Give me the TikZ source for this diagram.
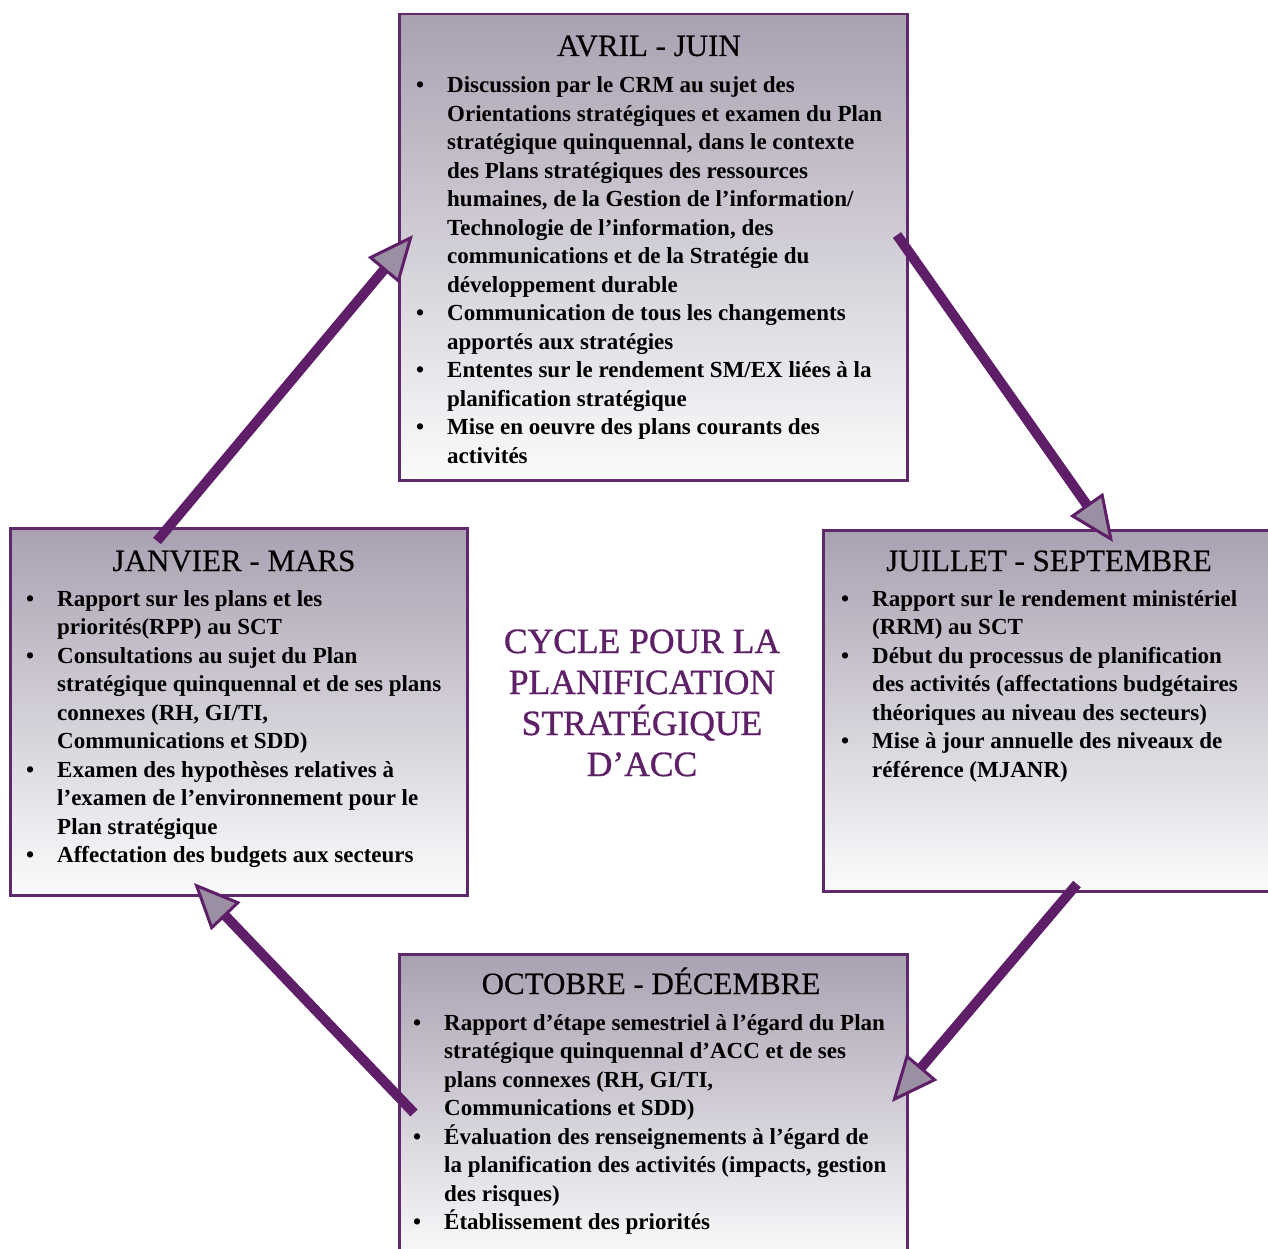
\documentclass[tikz,border=0pt]{standalone}
\usepackage{fontspec}
\setmainfont{Liberation Serif}
\newfontfamily\medserif[FakeBold=0.9]{Liberation Serif}
\newfontfamily\semiserif[FakeBold=0.4]{Liberation Serif}
\usetikzlibrary{arrows.meta}
\definecolor{pborder}{HTML}{5E2A6B}
\definecolor{pshaft}{HTML}{5F1F68}
\definecolor{ptip}{HTML}{9A8FA3}
\definecolor{boxtop}{HTML}{A9A1B2}
\definecolor{boxbot}{HTML}{FBFBFC}
\definecolor{ctitle}{HTML}{5E2167}
\newcommand{\bodyfont}{\fontsize{23}{28.5}\selectfont\bfseries}
\newcommand{\itm}[1]{\par\noindent\hangindent=31pt\hangafter=1\makebox[31pt][l]{\textbullet}{\let\\\newline #1}\par}
\newcommand{\bodytext}[1]{\parbox[t]{500pt}{\raggedright\bodyfont #1}}
\tikzset{
  boxst/.style={draw=pborder, line width=2.5pt, top color=boxtop, bottom color=boxbot, anchor=north west, inner sep=0pt},
  titlest/.style={anchor=base, inner sep=0pt, font=\semiserif\fontsize{31}{34}\selectfont},
  bodyst/.style={anchor=base west, inner sep=0pt},
  centerst/.style={align=center, inner sep=0pt, text=ctitle, font=\medserif\fontsize{35.5}{41}\selectfont},
  arrowst/.style={draw=pshaft, line width=10pt, -{Triangle[length=46pt,width=40pt,line width=3pt,fill=ptip]}}
}
\begin{document}
\begin{tikzpicture}[x=1pt,y=-1pt]
\useasboundingbox (0,0) rectangle (1268,1249);
\fill[white] (0,0) rectangle (1268,1249);
% boxes
\node[boxst, minimum width=508pt, minimum height=466pt] (top) at (398,13) {};
\node[boxst, minimum width=457pt, minimum height=367pt] (left) at (9,527) {};
\node[boxst, minimum width=452pt, minimum height=361pt] (right) at (822,529) {};
\node[boxst, minimum width=508pt, minimum height=310pt] (bottom) at (398,953) {};
% titles
\node[titlest] (ttop) at (649,56) {AVRIL - JUIN};
\node[titlest] (tleft) at (234,571) {JANVIER - MARS};
\node[titlest] (tright) at (1049,571) {JUILLET - SEPTEMBRE};
\node[titlest] (tbottom) at (651,994) {OCTOBRE - DÉCEMBRE};
% bodies
\node[bodyst] (btop) at (416,93) {\bodytext{%
\itm{Discussion par le CRM au sujet des\\Orientations stratégiques et examen du Plan\\stratégique quinquennal, dans le contexte\\des Plans stratégiques des ressources\\humaines, de la Gestion de l’information/\\Technologie de l’information, des\\communications et de la Stratégie du\\développement durable}
\itm{Communication de tous les changements\\apportés aux stratégies}
\itm{Ententes sur le rendement SM/EX liées à la\\planification stratégique}
\itm{Mise en oeuvre des plans courants des\\activités}}};
\node[bodyst] (bleft) at (26,606) {\bodytext{%
\itm{Rapport sur les plans et les\\priorités(RPP) au SCT}
\itm{Consultations au sujet du Plan\\stratégique quinquennal et de ses plans\\connexes (RH, GI/TI,\\Communications et SDD)}
\itm{Examen des hypothèses relatives à\\l’examen de l’environnement pour le\\Plan stratégique}
\itm{Affectation des budgets aux secteurs}}};
\node[bodyst] (bright) at (841,606) {\bodytext{%
\itm{Rapport sur le rendement ministériel\\(RRM) au SCT}
\itm{Début du processus de planification\\des activités (affectations budgétaires\\théoriques au niveau des secteurs)}
\itm{Mise à jour annuelle des niveaux de\\référence (MJANR)}}};
\node[bodyst] (bbottom) at (413,1030) {\bodytext{%
\itm{Rapport d’étape semestriel à l’égard du Plan\\stratégique quinquennal d’ACC et de ses\\plans connexes (RH, GI/TI,\\Communications et SDD)}
\itm{Évaluation des renseignements à l’égard de\\la planification des activités (impacts, gestion\\des risques)}
\itm{Établissement des priorités}}};
% center
\node[centerst, anchor=base] (center) at (642,776) {CYCLE POUR LA\\PLANIFICATION\\STRATÉGIQUE\\D’ACC};
% arrows
\coordinate (a1s) at (157,541); \coordinate (a1e) at (413,235);
\coordinate (a2s) at (897,235); \coordinate (a2e) at (1113,542);
\coordinate (a3s) at (1077,884); \coordinate (a3e) at (892,1102);
\coordinate (a4s) at (414,1113); \coordinate (a4e) at (194,883);
\draw[arrowst] (a1s) -- (a1e);
\draw[arrowst] (a2s) -- (a2e);
\draw[arrowst] (a3s) -- (a3e);
\draw[arrowst] (a4s) -- (a4e);
\end{tikzpicture}
\end{document}
